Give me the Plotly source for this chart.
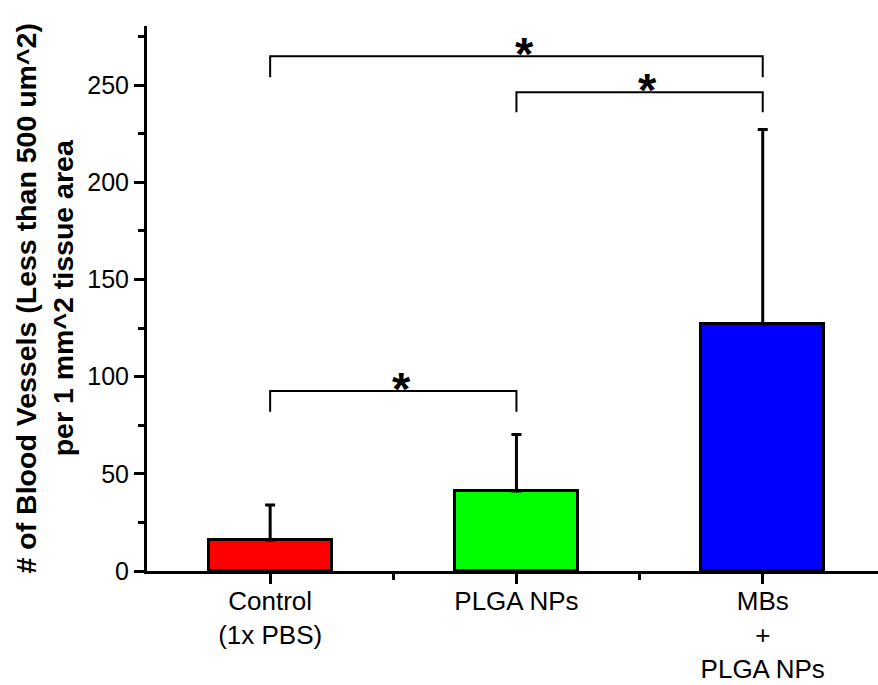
import plotly.graph_objects as go

# ---- data ----
categories = ["Control<br>(1x PBS)", "PLGA NPs", "MBs<br>+<br>PLGA NPs"]
cat_pos = [0, 1, 2]
means = [16.0, 41.2, 127.3]
err_upper = [18.0, 29.0, 99.9]
bar_colors = ["#FF0000", "#00FF00", "#0000FF"]

# significance brackets: (left group, right group, top value, leg bottom value)
br_left = [0, 0, 1]
br_right = [1, 2, 2]
br_top = [92.6, 264.9, 246.4]
br_bottom = [82.0, 254.1, 236.1]
br_label = ["*", "*", "*"]

y_ticks = [0, 50, 100, 150, 200, 250]
y_minor = [25, 75, 125, 175, 225, 275]
x_minor = [0.5, 1.5]

FONT = "Liberation Sans, Arial, sans-serif"

fig = go.Figure()

fig.add_trace(go.Bar(
    x=cat_pos, y=means, width=0.5,
    marker=dict(color=bar_colors, line=dict(color="black", width=3)),
    error_y=dict(type="data", array=err_upper, arrayminus=[0] * len(means),
                 symmetric=False, color="black", thickness=3, width=5),
    showlegend=False,
))

for l, r, t, b in zip(br_left, br_right, br_top, br_bottom):
    fig.add_trace(go.Scatter(
        x=[l, l, r, r], y=[b, t, t, b], mode="lines",
        line=dict(color="black", width=2), showlegend=False,
        hoverinfo="skip", cliponaxis=False,
    ))

for l, r, t, s in zip(br_left, br_right, br_top, br_label):
    fig.add_annotation(
        x=(l + r) / 2, y=t, xref="x", yref="y", text="<b>" + s + "</b>",
        showarrow=False, xanchor="center", yanchor="bottom",
        xshift=8, yshift=-26,
        font=dict(family=FONT, size=47, color="black"),
    )

fig.add_annotation(
    x=0, y=0.5, xref="paper", yref="paper", xshift=-103,
    text="<b># of Blood Vessels (Less than 500 um^2)<br>per 1 mm^2 tissue area</b>",
    textangle=-90, showarrow=False, xanchor="center", yanchor="middle",
    font=dict(family=FONT, size=28.5, color="black"),
)

fig.update_xaxes(
    range=[-0.5, 2.468], tickmode="array", tickvals=cat_pos, ticktext=categories,
    ticks="outside", ticklen=10, tickwidth=3, tickcolor="black",
    minor=dict(tickmode="array", tickvals=x_minor, ticks="outside", ticklen=6,
               tickwidth=2.5, tickcolor="black", showgrid=False),
    showline=True, linecolor="black", linewidth=3,
    showgrid=False, zeroline=False, automargin=False,
    ticklabelstandoff=-5,
    tickfont=dict(family=FONT, size=26, color="black"),
)
fig.update_yaxes(
    range=[0, 280.5], tickmode="array", tickvals=y_ticks,
    ticks="outside", ticklen=10, tickwidth=3, tickcolor="black",
    minor=dict(tickmode="array", tickvals=y_minor, ticks="outside", ticklen=6,
               tickwidth=2.5, tickcolor="black", showgrid=False),
    showline=True, linecolor="black", linewidth=3,
    showgrid=False, zeroline=False, automargin=False,
    tickfont=dict(family=FONT, size=25, color="black"),
)

fig.update_layout(
    width=878, height=685, autosize=False,
    margin=dict(l=147, r=0, t=26, b=114, pad=0),
    plot_bgcolor="white", paper_bgcolor="white",
    bargap=0,
)

fig.write_html("out.html")
